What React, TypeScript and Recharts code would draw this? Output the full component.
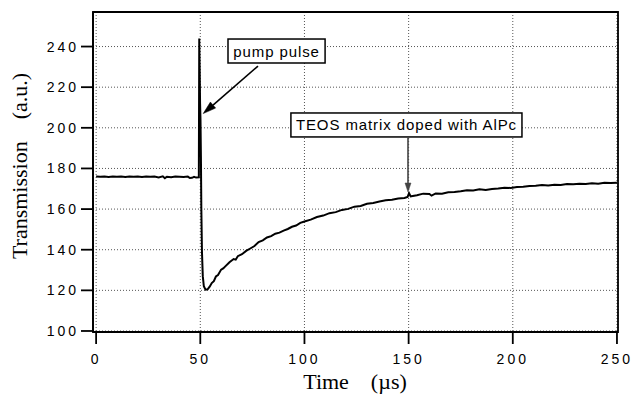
import React from 'react';
import { LineChart, Line, XAxis, YAxis, CartesianGrid, ReferenceArea, ReferenceLine } from 'recharts';

const times = [0,2,4,6,8,10,12,14,16,18,20,22,24,26,28,30,32,33,34,36,38,40,42,44,45,46,47,48,49.3,49.5,49.7,49.9,50.1,50.3,50.5,50.8,51.2,51.7,52.5,53.5,54.5,55.5,56.5,57.5,58.5,60,61,62,64,66,67,68,70,72,74,76,78,80,82,84,86,88,90,92,94,96,98,100,103,106,109,112,115,118,121,124,127,130,133,136,139,142,145,148,149.5,150.2,151,152,154,157,160,161,163,166,169,172,175,178,181,184,187,190,193,196,199,202,205,208,211,214,217,220,223,226,229,232,235,238,241,244,247,250];
const transmission = [176.0,175.9,176.0,175.8,176.0,175.9,176.0,175.8,176.0,175.9,176.0,175.8,176.0,175.9,176.0,175.6,176.1,175.2,175.9,175.7,176.0,175.9,175.8,176.0,175.3,175.4,175.9,175.5,175.6,244,230,212,204,186,160,139,127,122,120.3,120.5,121.8,123.6,124.5,126.8,127.5,130.2,130.8,131.8,133.8,135.4,135.1,136.8,137.8,139.4,140.6,141.8,143.8,144.6,146,146.7,147.9,148.4,149.4,150.2,151.3,151.9,153.2,153.9,154.8,156.1,156.8,158.0,158.5,159.6,160.1,161.2,161.5,162.6,163.0,163.7,164.3,164.6,165.2,165.5,166.0,167.8,166.2,166.4,166.8,167.6,167.4,166.6,167.7,167.6,168.3,168.4,168.8,169.3,169.2,169.7,169.4,169.9,170.1,170.5,170.4,170.9,171.0,171.4,171.5,171.8,171.6,172.0,171.9,172.3,172.2,172.5,172.4,172.7,172.5,172.9,172.8,173.0];

const xTicks = [0, 50, 100, 150, 200, 250];
const yTicks = [100, 120, 140, 160, 180, 200, 220, 240];
const xDomain = [-1.5, 250.5];
const yDomain = [99.5, 257];

const annotationLabels = ['pump pulse', 'TEOS matrix doped with AlPc'];
// box extents [t1, t2, v1, v2] and arrow [tFrom, vFrom, tTo, vTo]
const pumpBox = [63.3, 109.9, 231.9, 243.7];
const pumpArrow = [77.7, 230.4, 51.4, 207.0];
const teosBox = [93.5, 204.4, 195.5, 207.3];
const teosArrow = [149.7, 195.5, 149.7, 168.4];

const data = times.map((t, i) => ({ t, v: transmission[i] }));

const sans = '"Liberation Sans", Arial, Helvetica, sans-serif';
const serif = '"Liberation Serif", "Times New Roman", serif';

const makeBox = (text: string) => (props: any) => {
  const { x, y, width, height } = props;
  return (
    <g>
      <rect x={x} y={y} width={width} height={height} fill="#fff" stroke="#000" strokeWidth={1.5} />
      <text x={x + width / 2} y={y + height / 2 + 5.5} textAnchor="middle" fontFamily={sans} fontSize={15} letterSpacing={0.9} fill="#000">
        {text}
      </text>
    </g>
  );
};

const makeArrow = (color: string, head: number, half: number) => (props: any) => {
  const { x1, y1, x2, y2 } = props;
  if ([x1, y1, x2, y2].some((n) => typeof n !== 'number' || isNaN(n))) return null;
  const dx = x2 - x1;
  const dy = y2 - y1;
  const len = Math.sqrt(dx * dx + dy * dy) || 1;
  const ux = dx / len;
  const uy = dy / len;
  const bx = x2 - ux * head;
  const by = y2 - uy * head;
  const px = -uy * half;
  const py = ux * half;
  return (
    <g>
      <line x1={x1} y1={y1} x2={bx} y2={by} stroke={color} strokeWidth={1.6} />
      <polygon points={`${x2},${y2} ${bx + px},${by + py} ${bx - px},${by - py}`} fill={color} stroke={color} strokeWidth={0.5} />
    </g>
  );
};

const YTitle = () => {
  const cx = 27;
  const cy = 166;
  return (
    <text x={cx} y={cy} transform={`rotate(-90 ${cx} ${cy})`} textAnchor="middle" fontFamily={serif} fontSize={22} fill="#000">
      {'Transmission\u00a0\u00a0\u00a0\u00a0(a.u.)'}
    </text>
  );
};

const XTitle = () => (
  <text x={355} y={389} textAnchor="middle" fontFamily={serif} fontSize={22} fill="#000">
    {'Time\u00a0\u00a0\u00a0\u00a0(\u00b5s)'}
  </text>
);

export default function App() {
  return (
    <div style={{ position: 'fixed', top: 0, left: 0, width: 635, height: 397, background: '#fff' }}>
      <LineChart width={635} height={397} data={data} margin={{ top: 12, right: 17, bottom: 0, left: 0 }}>
        <CartesianGrid stroke="#555" strokeDasharray="1 2" strokeWidth={1} />
        <XAxis
          dataKey="t"
          type="number"
          domain={xDomain}
          ticks={xTicks}
          allowDataOverflow
          height={65}
          tickSize={12}
          tickMargin={10}
          stroke="#000"
          strokeWidth={1.8}
          tick={{ fontFamily: sans, fontSize: 14, letterSpacing: 3, fill: '#000' }}
          label={<XTitle />}
        />
        <YAxis
          type="number"
          domain={yDomain}
          ticks={yTicks}
          allowDataOverflow
          width={93}
          tickSize={12}
          tickMargin={2}
          stroke="#000"
          strokeWidth={1.8}
          tick={{ fontFamily: sans, fontSize: 14, letterSpacing: 3, fill: '#000' }}
          label={<YTitle />}
        />
        <ReferenceArea x1={xDomain[0]} x2={xDomain[1]} y1={yDomain[0]} y2={yDomain[1]} fill="none" stroke="#000" strokeWidth={1.8} fillOpacity={0} ifOverflow="visible" />
        <Line type="linear" dataKey="v" stroke="#000" strokeWidth={2} dot={false} isAnimationActive={false} />
        <ReferenceArea x1={pumpBox[0]} x2={pumpBox[1]} y1={pumpBox[2]} y2={pumpBox[3]} ifOverflow="visible" shape={makeBox(annotationLabels[0])} />
        <ReferenceArea x1={teosBox[0]} x2={teosBox[1]} y1={teosBox[2]} y2={teosBox[3]} ifOverflow="visible" shape={makeBox(annotationLabels[1])} />
        <ReferenceLine segment={[{ x: pumpArrow[0], y: pumpArrow[1] }, { x: pumpArrow[2], y: pumpArrow[3] }]} ifOverflow="visible" shape={makeArrow('#000', 13, 4)} />
        <ReferenceLine segment={[{ x: teosArrow[0], y: teosArrow[1] }, { x: teosArrow[2], y: teosArrow[3] }]} ifOverflow="visible" shape={makeArrow('#444', 9, 3)} />
      </LineChart>
    </div>
  );
}
